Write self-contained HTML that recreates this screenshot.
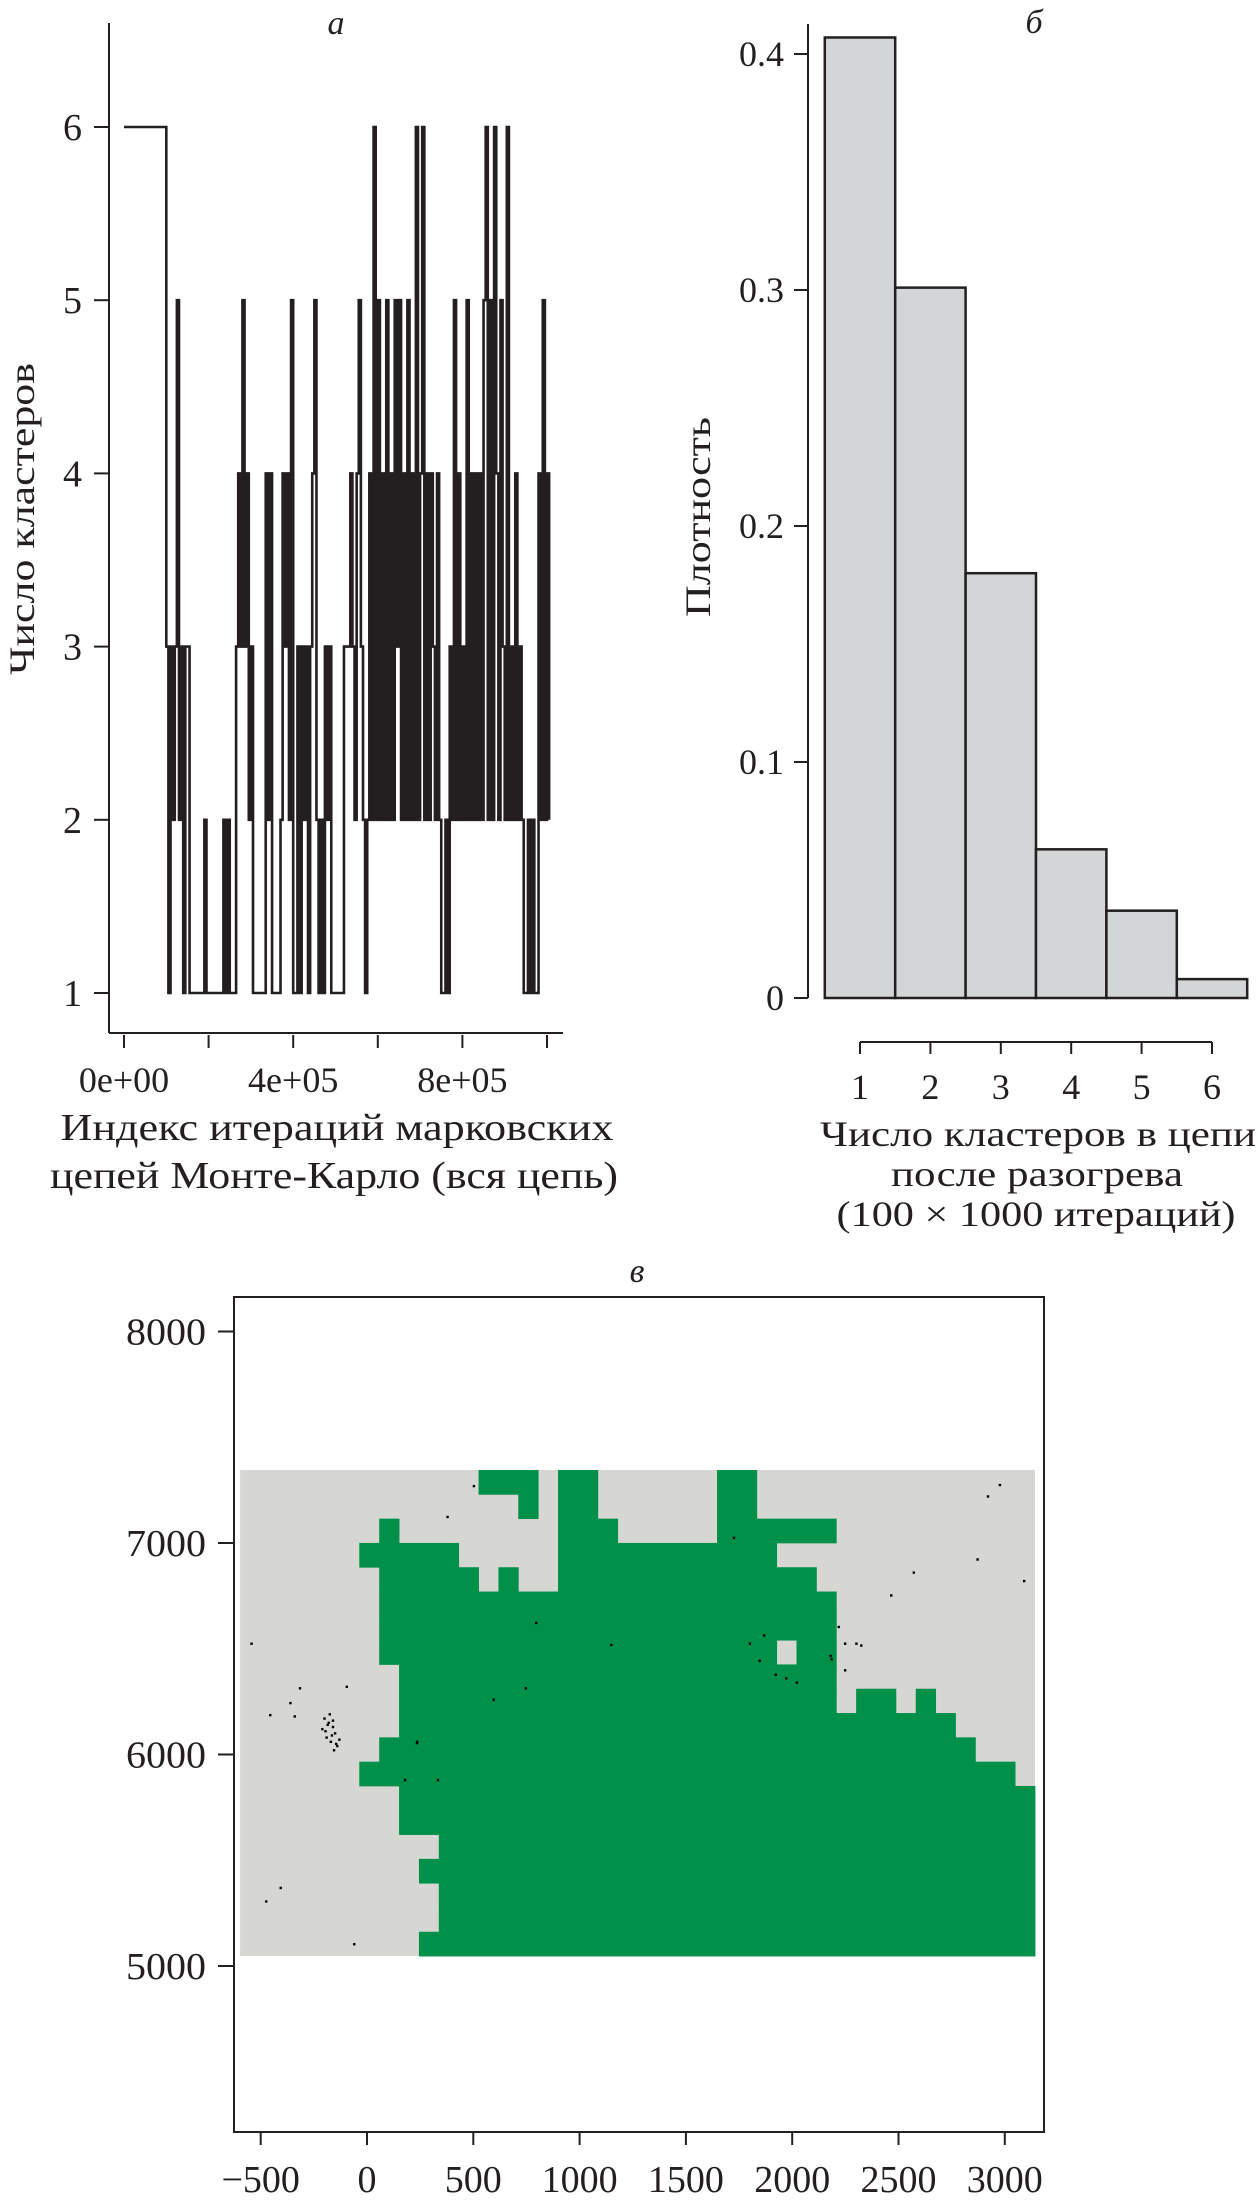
<!DOCTYPE html>
<html><head><meta charset="utf-8"><style>
html,body{margin:0;padding:0;background:#fff;}
svg{display:block;}
text{font-family:"Liberation Serif","DejaVu Serif",serif;fill:#231f20;}
</style></head><body>
<svg id="fig" width="1258" height="2200" viewBox="0 0 1258 2200" xmlns="http://www.w3.org/2000/svg">
<g id="pa"></g>
<g id="pb"></g>
<g id="pc"></g>
</svg>
<script>
// ---------- Panel a data ----------
const traceStep = 5000;
const traceValues = [6,6,6,6,6,6,6,6,6,6,6,6,6,6,6,6,6,6,6,6,
 3,1,3,2,3,5,2,3,1,3,
 3,1,1,1,1,1,1,1,2,1,
 1,1,1,1,1,1,1,2,1,2,1,1,1,
 3,4,3,5,3,4,2,3,
 1,1,1,1,1,1,
 4,2,4,
 1,1,1,1,
 2,4,3,4,2,5,
 1,1,
 3,1,3,2,3,1,3,4,5,
 2,1,2,1,
 3,2,3,1,
 1,1,1,1,1,
 3,3,3,4,3,
 2,4,5,3,2,1,2,
 4,2,6,2,5,2,4,2,5,2,4,2,5,3,5,2,4,2,5,2,4,2,6,2,4,6,2,4,2,4,3,2,4,2,
 1,1,2,1,
 3,2,5,2,4,2,3,2,5,2,4,2,4,2,4,2,5,6,2,5,2,6,4,2,5,3,2,6,2,3,2,4,2,3,2,1,
 1,2,1,2,1,1,
 4,2,5,2,4,2];
const traceYTicks = [1,2,3,4,5,6];
const traceXTicks = [0,200000,400000,600000,800000,1000000];
const traceXTickLabels = ["0e+00","","4e+05","","8e+05",""];

// ---------- Panel b data ----------
const histBins = [1,2,3,4,5,6];
const histDensity = [0.407,0.301,0.180,0.063,0.037,0.008];
const histYTicks = [0,0.1,0.2,0.3,0.4];
const histYTickLabels = ["0","0.1","0.2","0.3","0.4"];

// ---------- Panel c data ----------
const gridCols = 40, gridRows = 20;
const gridXRange = [-597, 3142];
const gridYRange = [5047, 7345];
const greenRuns = [
 [[12,15],[16,18],[24,26]],
 [[14,15],[16,18],[24,26]],
 [[7,8],[16,19],[24,30]],
 [[6,11],[16,27]],
 [[7,12],[13,14],[16,29]],
 [[7,30]],
 [[7,30]],
 [[7,27],[28,30]],
 [[8,30]],
 [[8,30],[31,33],[34,35]],
 [[8,36]],
 [[7,37]],
 [[6,39]],
 [[8,40]],
 [[8,40]],
 [[10,40]],
 [[9,40]],
 [[10,40]],
 [[10,40]],
 [[9,40]]
];
const dotX = [-543,503,379,-95,-315,-360,-455,-340,235,179,334,-406,-474,-60,796,1149,747,596,1726,1801,1868,1847,1923,1972,2022,2181,2219,2249,2302,2325,2249,2466,2572,2872,2921,2977,3091,
 -200,-180,-160,-150,-190,-170,-140,-210,-175,-155,-195,-165,-145,-185,-160,-130,2185,236];
const dotY = [6524,7269,7123,6320,6313,6243,6186,6180,6054,5879,5879,5369,5305,5103,6622,6518,6313,6259,7024,6524,6563,6443,6377,6360,6340,6466,6603,6524,6524,6515,6398,6752,6860,6922,7220,7274,6820,
 6170,6150,6130,6100,6080,6060,6040,6120,6190,6020,6110,6090,6050,6140,6160,6070,6450,6060];
const mapXTicks = [-500,0,500,1000,1500,2000,2500,3000];
const mapXTickLabels = ["\u2212500","0","500","1000","1500","2000","2500","3000"];
const mapYTicks = [5000,6000,7000,8000];

const NS = "http://www.w3.org/2000/svg";
function mk(parent, tag, attrs, txt){
  const e = document.createElementNS(NS, tag);
  for (const k in attrs) e.setAttribute(k, attrs[k]);
  if (txt !== undefined) e.textContent = txt;
  parent.appendChild(e);
  return e;
}

// ===== Panel a =====
(function(){
  const g = document.getElementById('pa');
  const xA = v => 124 + v/1000000*423;
  const yA = v => 993 - (v-1)*173.2;
  let e;
  e = mk(g,'line',{x1:109,y1:23,x2:109,y2:1033,stroke:'#231f20','stroke-width':2});
   
  e = mk(g,'line',{x1:109,y1:1033,x2:563,y2:1033,stroke:'#231f20','stroke-width':2});
   
  traceYTicks.forEach(v=>{
    let t = mk(g,'line',{x1:94,y1:yA(v),x2:109,y2:yA(v),stroke:'#231f20','stroke-width':2});
     
    let l = mk(g,'text',{x:82,y:yA(v)+13,'text-anchor':'end','font-size':38},String(v));
     
  });
  traceXTicks.forEach((v,i)=>{
    let t = mk(g,'line',{x1:xA(v),y1:1035,x2:xA(v),y2:1048,stroke:'#231f20','stroke-width':2});
     
    if (traceXTickLabels[i]) {
      let l = mk(g,'text',{x:xA(v),y:1092,'text-anchor':'middle','font-size':36},traceXTickLabels[i]);
       
    }
  });
  let pts = [];
  traceValues.forEach((v,i)=>{
    const x = xA(i*traceStep);
    if (i>0) pts.push(x.toFixed(2)+','+yA(traceValues[i-1]).toFixed(2));
    pts.push(x.toFixed(2)+','+yA(v).toFixed(2));
  });
  e = mk(g,'polyline',{points:pts.join(' '),fill:'none',stroke:'#231f20','stroke-width':2.6});
   
  e = mk(g,'text',{x:336,y:34,'text-anchor':'middle','font-size':34,'font-style':'italic'},'а');
   
  e = mk(g,'text',{x:337,y:1140,'text-anchor':'middle','font-size':38,textLength:553,lengthAdjust:'spacingAndGlyphs'},'Индекс итераций марковских');
   
  e = mk(g,'text',{x:334,y:1188,'text-anchor':'middle','font-size':38,textLength:568,lengthAdjust:'spacingAndGlyphs'},'цепей Монте-Карло (вся цепь)');
   
  e = mk(g,'text',{x:0,y:0,'text-anchor':'middle','font-size':36,textLength:312,lengthAdjust:'spacingAndGlyphs',transform:'translate(34,519) rotate(-90)'},'Число кластеров');
   
})();

// ===== Panel b =====
(function(){
  const g = document.getElementById('pb');
  const yB = v => 998 - v/0.1*236;
  const xB = v => 860 + (v-1)*70.4;
  let e;
  e = mk(g,'line',{x1:808,y1:24,x2:808,y2:998,stroke:'#231f20','stroke-width':2});
   
  histYTicks.forEach((v,i)=>{
    let t = mk(g,'line',{x1:794,y1:yB(v),x2:808,y2:yB(v),stroke:'#231f20','stroke-width':2});
     
    let l = mk(g,'text',{x:784,y:yB(v)+12,'text-anchor':'end','font-size':36},histYTickLabels[i]);
     
  });
  histBins.forEach((b,i)=>{
    const x0 = xB(b)-35.2, h = histDensity[i];
    let r = mk(g,'rect',{x:x0,y:yB(h),width:70.4,height:998-yB(h),fill:'#d4d5d7',stroke:'#231f20','stroke-width':2.5});
     
  });
  e = mk(g,'line',{x1:xB(1),y1:1042,x2:xB(6),y2:1042,stroke:'#231f20','stroke-width':2});
   
  histBins.forEach(b=>{
    let t = mk(g,'line',{x1:xB(b),y1:1042,x2:xB(b),y2:1054,stroke:'#231f20','stroke-width':2});
     
    let l = mk(g,'text',{x:xB(b),y:1099,'text-anchor':'middle','font-size':36},String(b));
     
  });
  e = mk(g,'text',{x:1034,y:33,'text-anchor':'middle','font-size':34,'font-style':'italic'},'б');
   
  e = mk(g,'text',{x:1038,y:1146,'text-anchor':'middle','font-size':36,textLength:436,lengthAdjust:'spacingAndGlyphs'},'Число кластеров в цепи');
   
  e = mk(g,'text',{x:1037,y:1186,'text-anchor':'middle','font-size':36,textLength:292,lengthAdjust:'spacingAndGlyphs'},'после разогрева');
   
  e = mk(g,'text',{x:1036,y:1226,'text-anchor':'middle','font-size':36,textLength:399,lengthAdjust:'spacingAndGlyphs'},'(100 × 1000 итераций)');
   
  e = mk(g,'text',{x:0,y:0,'text-anchor':'middle','font-size':36,textLength:200,lengthAdjust:'spacingAndGlyphs',transform:'translate(710,517) rotate(-90)'},'Плотность');
   
})();

// ===== Panel c =====
(function(){
  const g = document.getElementById('pc');
  const xC = v => 367 + v*0.2126;
  const yC = v => 1966 - (v-5000)*0.2115;
  let e;
  const gx0 = xC(gridXRange[0]), gx1 = xC(gridXRange[1]);
  const gy0 = yC(gridYRange[1]), gy1 = yC(gridYRange[0]);
  e = mk(g,'rect',{x:gx0,y:gy0,width:gx1-gx0,height:gy1-gy0,fill:'#d6d6d3'});
   
  const cw = (gx1-gx0)/gridCols, ch = (gy1-gy0)/gridRows;
  greenRuns.forEach((runs,r)=>{
    runs.forEach(run=>{
      let c = mk(g,'rect',{x:(gx0+run[0]*cw).toFixed(2),y:(gy0+r*ch).toFixed(2),width:((run[1]-run[0])*cw+0.4).toFixed(2),height:(ch+0.4).toFixed(2),fill:'#00904a'});
       
    });
  });
  dotX.forEach((x,i)=>{
    let d = mk(g,'rect',{x:xC(x)-1.2,y:yC(dotY[i])-1.2,width:2.4,height:2.4,fill:'#000'});
     
  });
  e = mk(g,'rect',{x:234,y:1297,width:810,height:835,fill:'none',stroke:'#231f20','stroke-width':2});
   
  mapYTicks.forEach(v=>{
    let t = mk(g,'line',{x1:218,y1:yC(v),x2:234,y2:yC(v),stroke:'#231f20','stroke-width':2});
     
    let l = mk(g,'text',{x:206,y:yC(v)+13,'text-anchor':'end','font-size':38,textLength:80,lengthAdjust:'spacingAndGlyphs'},String(v));
     
  });
  mapXTicks.forEach((v,i)=>{
    let t = mk(g,'line',{x1:xC(v),y1:2132,x2:xC(v),y2:2145,stroke:'#231f20','stroke-width':2});
     
    let l = mk(g,'text',{x:xC(v),y:2192,'text-anchor':'middle','font-size':38},mapXTickLabels[i]);
     
  });
  e = mk(g,'text',{x:637,y:1282,'text-anchor':'middle','font-size':34,'font-style':'italic'},'в');
   
})();
</script>
</body></html>
